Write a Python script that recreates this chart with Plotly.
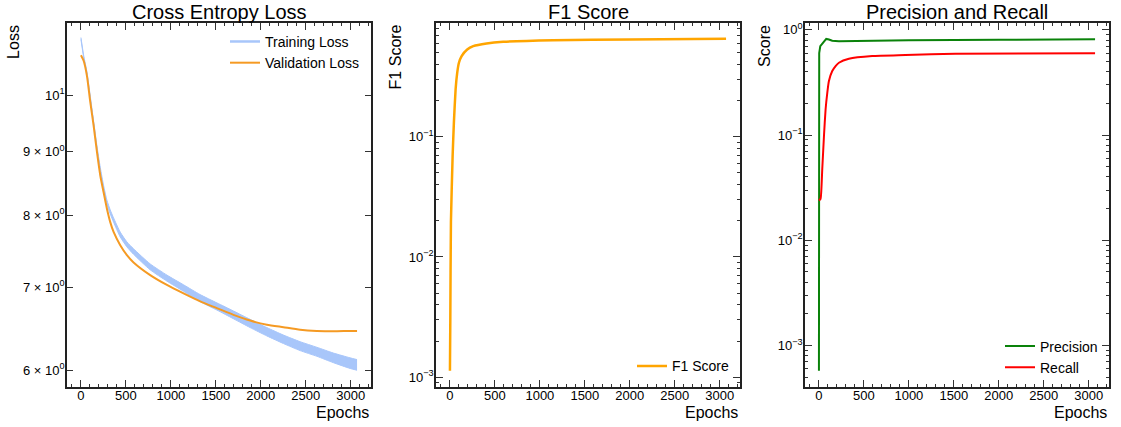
import plotly.graph_objects as go

# ---------------- data ----------------
loss_epochs = [0, 30, 67, 104, 141, 178, 215, 252, 289, 326, 363, 437, 511, 585,
               770, 956, 1141, 1326, 1511, 1696, 1881, 2067, 2252, 2437, 2622,
               2807, 2993, 3070]
train_loss = [11.11, 10.75, 10.42, 9.96, 9.51, 9.08, 8.72, 8.43, 8.20, 8.05, 7.93,
              7.72, 7.58, 7.48, 7.27, 7.12, 6.99, 6.86, 6.755, 6.65, 6.545, 6.445,
              6.355, 6.275, 6.21, 6.14, 6.08, 6.06]
train_spread = [0.02, 0.02, 0.02, 0.02, 0.02, 0.022, 0.025, 0.025, 0.028, 0.03, 0.032,
                0.035, 0.035, 0.038, 0.04, 0.04, 0.042, 0.045, 0.045, 0.048, 0.05,
                0.05, 0.05, 0.052, 0.052, 0.055, 0.06, 0.06]
val_loss = [10.77, 10.66, 10.36, 9.87, 9.45, 9.00, 8.615, 8.35, 8.10, 7.90, 7.757,
            7.568, 7.43, 7.33, 7.16, 7.03, 6.92, 6.818, 6.734, 6.65, 6.58, 6.53,
            6.50, 6.47, 6.455, 6.45, 6.455, 6.455]

f1_epochs = [0, 4, 11, 30, 44, 63, 81, 100, 130, 192, 259, 407, 592, 1147, 2000, 3070]
f1_score = [0.00113, 0.0029, 0.0195, 0.0697, 0.1316, 0.248, 0.3406, 0.412, 0.468,
            0.531, 0.566, 0.596, 0.615, 0.635, 0.643, 0.652]

prec_epochs = [0, 1, 3, 15, 26, 44, 63, 81, 111, 148, 222, 407, 1000, 2000, 3070]
precision = [0.000575, 0.49, 0.60, 0.70, 0.721, 0.738, 0.78, 0.82, 0.81, 0.787, 0.78,
             0.785, 0.795, 0.805, 0.812]

rec_epochs = [0, 18, 37, 56, 74, 93, 111, 148, 185, 222, 333, 592, 962, 1517, 3070]
recall = [0.0239, 0.0248, 0.0477, 0.0986, 0.176, 0.2535, 0.3268, 0.406, 0.453, 0.487,
          0.532, 0.564, 0.576, 0.593, 0.600]

x_ticks = [0, 500, 1000, 1500, 2000, 2500, 3000]
x_minor = [v for v in range(-100, 3300, 100) if v % 500 != 0]

loss_ticks = [6, 7, 8, 9, 10]
loss_ticklabels = ["6 × 10<sup>0</sup>", "7 × 10<sup>0</sup>", "8 × 10<sup>0</sup>",
                   "9 × 10<sup>0</sup>", "10<sup>1</sup>"]
f1_ticks = [1e-3, 1e-2, 1e-1]
f1_ticklabels = ["10<sup>−3</sup>", "10<sup>−2</sup>", "10<sup>−1</sup>"]
pr_ticks = [1e-3, 1e-2, 1e-1, 1]
pr_ticklabels = ["10<sup>−3</sup>", "10<sup>−2</sup>", "10<sup>−1</sup>", "10<sup>0</sup>"]
log_minor = [m * 10.0 ** e for e in (-4, -3, -2, -1, 0) for m in range(2, 10)]

# ---------------- figure ----------------
W, H = 1121, 427
FONT = "Liberation Sans, Arial, sans-serif"

def fx(p):
    return p / W

def fy(p):
    return 1 - p / H

panels_x = [(67, 371), (436, 740), (805, 1109)]
ydom = [fy(387), fy(21)]

fig = go.Figure()

train_upper = [c + s for c, s in zip(train_loss, train_spread)]
train_lower = [c - s for c, s in zip(train_loss, train_spread)]
BLUE = "#a8c6fa"
ORANGE = "#f59a23"

fig.add_trace(go.Scatter(x=loss_epochs, y=train_lower, mode="lines",
                         line=dict(color=BLUE, width=1, shape="spline", smoothing=0.6),
                         showlegend=False, hoverinfo="skip", xaxis="x", yaxis="y"))
fig.add_trace(go.Scatter(x=loss_epochs, y=train_upper, mode="lines", fill="tonexty",
                         fillcolor=BLUE,
                         line=dict(color=BLUE, width=1, shape="spline", smoothing=0.6),
                         showlegend=False, hoverinfo="skip", xaxis="x", yaxis="y"))
fig.add_trace(go.Scatter(x=[None], y=[None], mode="lines", name="Training Loss",
                         line=dict(color=BLUE, width=2.5), legend="legend",
                         xaxis="x", yaxis="y"))
fig.add_trace(go.Scatter(x=loss_epochs, y=val_loss, mode="lines", name="Validation Loss",
                         line=dict(color=ORANGE, width=2, shape="spline", smoothing=0.6),
                         legend="legend", xaxis="x", yaxis="y"))

fig.add_trace(go.Scatter(x=f1_epochs, y=f1_score, mode="lines", name="F1 Score",
                         line=dict(color="#ffa500", width=2.5, shape="spline", smoothing=0.5),
                         legend="legend2", xaxis="x2", yaxis="y2"))

fig.add_trace(go.Scatter(x=prec_epochs, y=precision, mode="lines", name="Precision",
                         line=dict(color="#0a820a", width=2),
                         legend="legend3", xaxis="x3", yaxis="y3"))
fig.add_trace(go.Scatter(x=rec_epochs, y=recall, mode="lines", name="Recall",
                         line=dict(color="#ff0000", width=2, shape="spline", smoothing=0.5),
                         legend="legend3", xaxis="x3", yaxis="y3"))

tickfont = dict(family=FONT, size=13, color="black")
common_axis = dict(showline=True, linecolor="#222222", linewidth=1.6, mirror="allticks",
                   ticks="inside", tickcolor="#333333", tickwidth=1, showgrid=False,
                   zeroline=False, tickfont=tickfont)

xaxis_common = dict(common_axis, range=[-155, 3225], tickvals=x_ticks, ticklen=7,
                    ticklabelstandoff=-5,
                    minor=dict(tickvals=x_minor, ticks="inside", ticklen=3.5,
                               tickcolor="#333333", showgrid=False))

legend_font = dict(family=FONT, size=14, color="black")
layout = dict(
    width=W, height=H,
    margin=dict(l=0, r=0, t=0, b=0),
    paper_bgcolor="white", plot_bgcolor="white",
    font=dict(family=FONT, color="black"),
    xaxis=dict(xaxis_common, domain=[fx(67), fx(371)], anchor="y"),
    xaxis2=dict(xaxis_common, domain=[fx(436), fx(740)], anchor="y2"),
    xaxis3=dict(xaxis_common, domain=[fx(805), fx(1109)], anchor="y3"),
    yaxis=dict(common_axis, type="log", domain=ydom, anchor="x",
               range=[0.7645, 1.0583], tickvals=loss_ticks, ticktext=loss_ticklabels,
               ticklen=6, ticklabelstandoff=-2),
    yaxis2=dict(common_axis, type="log", domain=ydom, anchor="x2",
                range=[-3.083, -0.054], tickvals=f1_ticks, ticktext=f1_ticklabels,
                ticklen=7, ticklabelstandoff=-2,
                minor=dict(tickvals=log_minor, ticks="inside", ticklen=3.5,
                           tickcolor="#333333", showgrid=False)),
    yaxis3=dict(common_axis, type="log", domain=ydom, anchor="x3",
                range=[-3.397, 0.066], tickvals=pr_ticks, ticktext=pr_ticklabels,
                ticklen=7, ticklabelstandoff=-2,
                minor=dict(tickvals=log_minor, ticks="inside", ticklen=3.5,
                           tickcolor="#333333", showgrid=False)),
    legend=dict(x=fx(225), y=fy(24), xanchor="left", yanchor="top", traceorder="normal",
                bgcolor="rgba(0,0,0,0)", font=legend_font, itemwidth=30),
    legend2=dict(x=fx(632), y=fy(350), xanchor="left", yanchor="top", traceorder="normal",
                 bgcolor="rgba(0,0,0,0)", font=legend_font, itemwidth=30),
    legend3=dict(x=fx(1000), y=fy(330), xanchor="left", yanchor="top", traceorder="normal",
                 bgcolor="rgba(0,0,0,0)", font=legend_font, itemwidth=30),
)
fig.update_layout(**layout)

annotations = []
titles = ["Cross Entropy Loss", "F1 Score", "Precision and Recall"]
for (x0, x1), t in zip(panels_x, titles):
    annotations.append(dict(text=t, x=fx((x0 + x1) / 2), y=fy(10), xref="paper", yref="paper",
                            xanchor="center", yanchor="middle", showarrow=False,
                            font=dict(family=FONT, size=20, color="black")))
    annotations.append(dict(text="Epochs", x=fx(x1), y=fy(412), xref="paper", yref="paper",
                            xanchor="right", yanchor="middle", showarrow=False,
                            font=dict(family=FONT, size=16, color="black")))
ylabels = [("Loss", 14), ("F1 Score", 395), ("Score", 765)]
for t, xc in ylabels:
    annotations.append(dict(text=t, x=fx(xc), y=fy(21), xref="paper", yref="paper",
                            xanchor="center", yanchor="top", textangle=-90, showarrow=False,
                            font=dict(family=FONT, size=16, color="black")))
fig.update_layout(annotations=annotations)

fig.write_html("out.html", config={"displayModeBar": False},
               post_script="document.body.style.margin='0px';")
